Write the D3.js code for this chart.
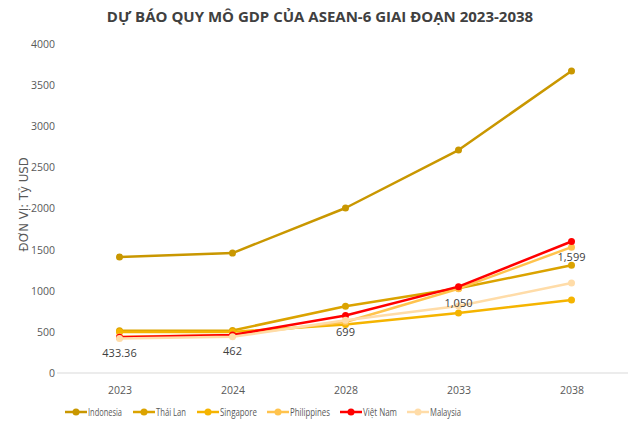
<!DOCTYPE html>
<html>
<head>
<meta charset="utf-8">
<script src="https://cdn.jsdelivr.net/npm/d3@7"></script>
<style>
  body { margin: 0; background: #fff; }
  text { font-family: "Open Sans", "DejaVu Sans", sans-serif; }
  .narrow { font-family: "Liberation Sans Narrow", "DejaVu Sans Condensed", sans-serif; }
</style>
</head>
<body>
<svg id="chart" width="640" height="428"></svg>
<script>
const years = ["2023", "2024", "2028", "2033", "2038"];
const yTicks = [0, 500, 1000, 1500, 2000, 2500, 3000, 3500, 4000];

const seriesNames = ["Indonesia", "Thái Lan", "Singapore", "Philippines", "Việt Nam", "Malaysia"];
const seriesColors = ["#C99700", "#DBA300", "#F5B400", "#FFC34D", "#FF0000", "#FFDCA8"];

const indonesia = [1410, 1458, 2006, 2711, 3672];
const thailand = [514, 517, 812, 1030, 1310];
const singapore = [497, 500, 590, 729, 888];
const philippines = [440, 462, 620, 1025, 1530];
const vietnam = [433.36, 462, 699, 1050, 1599];
const malaysia = [420, 440, 640, 815, 1094];

const seriesValues = [indonesia, thailand, singapore, philippines, vietnam, malaysia];
const vietnamLabels = ["433.36", "462", "699", "1,050", "1,599"];

const svg = d3.select("#chart");
const margin = { left: 63, right: 12, top: 44, bottom: 55 };
const W = 640, H = 428;

const x = d3.scalePoint()
  .domain(years)
  .range([margin.left, W - margin.right])
  .padding(0.5);

const y = d3.scaleLinear()
  .domain([0, 4000])
  .range([H - margin.bottom, margin.top]);

// title
svg.append("text")
  .attr("x", 320)
  .attr("y", 22)
  .attr("text-anchor", "middle")
  .attr("fill", "#404040")
  .attr("font-size", "15px")
  .attr("font-weight", "bold")
  .text("DỰ BÁO QUY MÔ GDP CỦA ASEAN-6 GIAI ĐOẠN 2023-2038");

// y axis
const yAxis = svg.append("g")
  .attr("transform", `translate(${margin.left - 8},0)`)
  .call(d3.axisLeft(y).tickValues(yTicks).tickSize(0).tickFormat(d3.format("d")));
yAxis.select(".domain").remove();
yAxis.selectAll("text")
  .attr("fill", "#595959")
  .attr("font-size", "10.5px")
  .attr("x", 0);

// baseline
svg.append("line")
  .attr("x1", margin.left - 6)
  .attr("x2", W - margin.right)
  .attr("y1", y(0))
  .attr("y2", y(0))
  .attr("stroke", "#D9D9D9")
  .attr("stroke-width", 1);

// x axis
const xAxis = svg.append("g")
  .attr("transform", `translate(0,${y(0)})`)
  .call(d3.axisBottom(x).tickSize(0));
xAxis.select(".domain").remove();
xAxis.selectAll("text")
  .attr("fill", "#595959")
  .attr("font-size", "10.5px")
  .attr("dy", "1.7em");

// y label
svg.append("text")
  .attr("class", "narrow")
  .attr("transform", `translate(28,${y(2050)}) rotate(-90)`)
  .attr("text-anchor", "middle")
  .attr("fill", "#595959")
  .attr("font-size", "13px")
  .text("ĐƠN VỊ: Tỷ USD");

const line = d3.line()
  .x((d, i) => x(years[i]))
  .y(d => y(d));

seriesValues.forEach((vals, si) => {
  const g = svg.append("g");
  g.append("path")
    .datum(vals)
    .attr("d", line)
    .attr("fill", "none")
    .attr("stroke", seriesColors[si])
    .attr("stroke-width", 2.5)
    .attr("stroke-linejoin", "round");
  g.selectAll("circle")
    .data(vals)
    .join("circle")
    .attr("cx", (d, i) => x(years[i]))
    .attr("cy", d => y(d))
    .attr("r", 3.5)
    .attr("fill", seriesColors[si]);
});

// data labels for Viet Nam
svg.append("g").selectAll("text")
  .data(vietnam)
  .join("text")
  .attr("x", (d, i) => x(years[i]))
  .attr("y", d => y(d) + 20)
  .attr("text-anchor", "middle")
  .attr("fill", "#404040")
  .attr("font-size", "11px")
  .text((d, i) => vietnamLabels[i]);

// legend: the original uses a narrow font, so each label is squeezed to its width there
const legendX = [65, 133, 197, 267, 340, 407];
const legendTextW = [34, 30, 37, 40, 34, 31];
const legend = svg.append("g").attr("transform", "translate(0,412)");
seriesNames.forEach((name, i) => {
  const lg = legend.append("g").attr("transform", `translate(${legendX[i]},0)`);
  lg.append("line")
    .attr("x1", 0).attr("x2", 22)
    .attr("stroke", seriesColors[i])
    .attr("stroke-width", 2.5);
  lg.append("circle")
    .attr("cx", 11).attr("r", 3.5)
    .attr("fill", seriesColors[i]);
  lg.append("text")
    .attr("x", 23)
    .attr("y", 4)
    .attr("fill", "#595959")
    .attr("font-size", "11px")
    .attr("textLength", legendTextW[i])
    .attr("lengthAdjust", "spacingAndGlyphs")
    .text(name);
});
</script>
</body>
</html>
